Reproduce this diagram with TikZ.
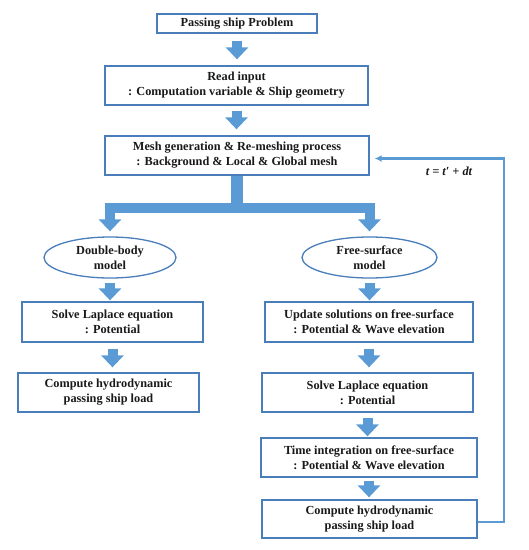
\documentclass[tikz,border=0pt]{standalone}
\usepackage{fontspec}
\setmainfont{Liberation Serif}
\usetikzlibrary{arrows.meta,calc,shapes.geometric}
\definecolor{boxblue}{HTML}{4A7EBB}
\definecolor{arrblue}{HTML}{5B9BD5}
\tikzset{
  stepbox/.style={draw=boxblue, line width=1.3pt, inner sep=0pt, align=center,
    font=\fontsize{12.3}{15}\selectfont\bfseries, text=black!90},
  modelell/.style={stepbox, ellipse},
  fat/.style={draw=arrblue, line width=10pt,
    -{Triangle[length=12pt,width=22pt]}},
  trunk/.style={draw=arrblue, line width=12pt},
  fb/.style={draw=arrblue, line width=2.3pt, line join=miter,
    -{Latex[length=7pt,width=7pt]}},
}
\begin{document}
\begin{tikzpicture}[x=1pt,y=-1pt]
\useasboundingbox (0,0) rectangle (529,550);
\node[stepbox, minimum width=160pt, minimum height=19pt] (p) at (237,23.5) {Passing ship Problem};
\node[stepbox, minimum width=263pt, minimum height=39pt] (r) at (236.5,85.5) {Read input\\: Computation variable \& Ship geometry};
\node[stepbox, minimum width=264pt, minimum height=39pt] (m) at (237,155.5) {Mesh generation \& Re-meshing process\\: Background \& Local \& Global mesh};
\node[modelell, minimum width=132pt, minimum height=41pt] (e1) at (110,257.5) {Double-body\\model};
\node[modelell, minimum width=135pt, minimum height=41pt] (e2) at (369.5,257.5) {Free-surface\\model};
\node[stepbox, minimum width=181pt, minimum height=40pt] (l1) at (112.5,322) {Solve Laplace equation\\: Potential};
\node[stepbox, minimum width=208pt, minimum height=40pt] (r1) at (369,322) {Update solutions on free-surface\\: Potential \& Wave elevation};
\node[stepbox, minimum width=181pt, minimum height=39pt] (l2) at (108.5,392.5) {Compute hydrodynamic\\passing ship load};
\node[stepbox, minimum width=211pt, minimum height=39pt] (r2) at (367.5,392.5) {Solve Laplace equation\\: Potential};
\node[stepbox, minimum width=216pt, minimum height=39pt] (r3) at (369,457.5) {Time integration on free-surface\\: Potential \& Wave elevation};
\node[stepbox, minimum width=215pt, minimum height=38pt] (r4) at (369.5,519) {Compute hydrodynamic\\passing ship load};
\node[font=\fontsize{12.3}{15}\selectfont\bfseries\itshape, text=black!90] (tl) at (449,171) {t = t′ + dt};
% straight block arrows
\draw[fat, shorten <=7pt, shorten >=6pt] (p.south) -- (p.south |- r.north);
\draw[fat, shorten <=5pt, shorten >=6pt] (r.south) -- (r.south |- m.north);
\draw[fat, shorten <=4pt, shorten >=1pt] (e1.south) -- (e1.south |- l1.north);
\draw[fat, shorten <=4pt, shorten >=1pt] (e2.south) -- (e2.south |- r1.north);
\draw[fat, shorten <=6pt, shorten >=5pt] (l1.south) -- (l1.south |- l2.north);
\draw[fat, shorten <=6pt, shorten >=5pt] (r1.south) -- (r1.south |- r2.north);
\draw[fat, shorten <=5pt, shorten >=1pt] (r2.south) -- (r2.south |- r3.north);
\draw[fat, shorten <=3pt, shorten >=2pt] (r3.south) -- (r3.south |- r4.north);
% branching arrow
\coordinate (split) at ($(m.south)+(0,32)$);
\draw[trunk] (m.south) -- ($(split)+(0,4)$);
\draw[fat, shorten >=5pt, line join=miter] (split) -| (e1.north);
\draw[fat, shorten >=5pt, line join=miter] (split) -| (e2.north);
% feedback loop
\coordinate (fbc) at ($(r4.east)+(26,3)$);
\draw[fb, shorten >=5pt] ([yshift=-3pt]r4.east) -- (fbc) |- ([yshift=-3pt]m.east);
\end{tikzpicture}
\end{document}
